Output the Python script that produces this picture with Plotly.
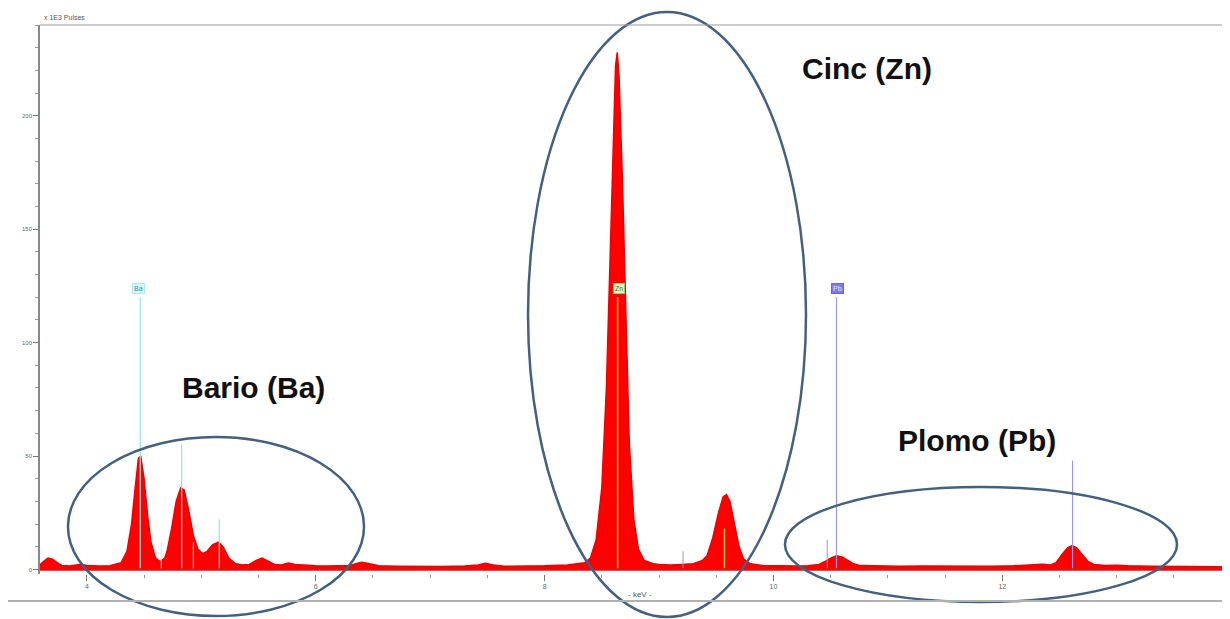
import plotly.graph_objects as go

# Spectrum (energy in keV, counts)
energy_kev = [
    3.59, 3.62, 3.66, 3.70, 3.74, 3.78, 3.85, 3.90, 3.95, 4.00, 4.10, 4.20, 4.30,
    4.35, 4.39, 4.42, 4.45, 4.47, 4.50, 4.53, 4.56, 4.60, 4.64, 4.68,
    4.70, 4.74, 4.78, 4.82, 4.85, 4.89, 4.93, 4.97, 5.01,
    5.05, 5.10, 5.15, 5.19, 5.24, 5.30, 5.36,
    5.42, 5.48, 5.53, 5.58, 5.64, 5.70, 5.76, 5.82, 5.90, 6.00, 6.10, 6.20, 6.30,
    6.35, 6.40, 6.46, 6.55, 6.70, 6.90, 7.10, 7.30,
    7.42, 7.48, 7.55, 7.65, 7.80, 8.00, 8.20, 8.35,
    8.40, 8.45, 8.50, 8.54, 8.57, 8.60, 8.62, 8.635, 8.65, 8.68, 8.71, 8.74, 8.78, 8.82, 8.87, 8.95,
    9.00, 9.10, 9.20, 9.30, 9.38,
    9.42, 9.47, 9.52, 9.56, 9.59, 9.62, 9.66, 9.70, 9.74, 9.80, 9.90, 10.00, 10.10, 10.20, 10.30, 10.40,
    10.45, 10.50, 10.55, 10.60, 10.65, 10.70, 10.76, 10.90, 11.10, 11.30, 11.50, 11.70, 11.90, 12.10,
    12.25, 12.35, 12.42,
    12.47, 12.52, 12.57, 12.61, 12.65, 12.70, 12.75, 12.80, 12.90, 13.00, 13.10, 13.30, 13.50, 13.70, 13.99,
]
counts = [
    2.0, 3.5, 5.0, 4.5, 3.0, 1.8, 1.5, 2.0, 2.3, 1.8, 1.5, 1.6, 3.0,
    8.0, 20.0, 35.0, 49.0, 50.0, 40.0, 24.0, 12.0, 5.0, 3.5, 5.0,
    8.0, 18.0, 30.0, 36.0, 35.0, 26.0, 15.0, 9.0, 7.0,
    8.0, 11.0, 12.0, 10.0, 5.0, 2.5, 2.0,
    2.2, 4.0, 5.0, 3.8, 2.2, 2.0, 2.8, 2.2, 1.8, 1.6, 1.5, 1.5, 1.8,
    2.5, 3.2, 2.6, 1.6, 1.4, 1.3, 1.3, 1.5,
    2.0, 2.7, 2.0, 1.4, 1.4, 1.6, 2.0, 3.0,
    5.0, 13.0, 36.0, 80.0, 133.0, 190.0, 222.0, 228.0, 218.0, 172.0, 110.0, 56.0, 22.0, 9.0, 4.0, 2.5,
    2.2, 2.0, 2.2, 2.5, 4.0,
    6.0, 14.0, 25.0, 32.0, 33.0, 30.0, 20.0, 10.0, 4.5, 2.5, 1.8, 1.6, 1.5, 1.5, 1.6, 2.2,
    3.5, 5.0, 6.0, 5.5, 4.0, 2.5, 1.7, 1.5, 1.4, 1.5, 1.4, 1.5, 1.4, 1.6,
    1.9, 2.3, 2.0,
    3.0, 6.5, 9.5, 10.5, 9.5, 6.5, 3.5, 2.2, 1.7, 1.9, 1.6, 1.4, 1.3, 1.3, 1.2,
]

# Element line markers (energy, marker height)
ba_lines_kev = [4.466, 4.828, 5.157]
ba_lines_h = [120, 55, 22]
ba_inner_kev = [4.65, 4.93]
ba_inner_h = [12, 12]
zn_lines_kev = [8.638, 9.572]
zn_lines_h = [120, 18]
pb_lines_kev = [10.551, 12.614]
pb_lines_h = [120, 48]
other_lines_kev = [9.21, 10.47]
other_lines_h = [8, 13]

element_labels = ["Ba", "Zn", "Pb"]
element_label_kev = [4.455, 8.65, 10.56]
element_label_y = 124

region_titles = ["Bario (Ba)", "Cinc (Zn)", "Plomo (Pb)"]
region_title_kev = [5.46, 10.82, 11.78]
region_title_y = [80, 221, 57]

y_ticks = [0, 50, 100, 150, 200]
x_ticks = [4, 6, 8, 10, 12]

fig = go.Figure()

fig.add_trace(go.Scatter(
    x=energy_kev, y=counts, mode="lines", fill="tozeroy",
    fillcolor="#ff0000", line=dict(color="#ee0000", width=1.5),
    hoverinfo="skip", showlegend=False,
))


def add_marker_lines(xs, hs, color, width):
    lx, ly = [], []
    for xv, hv in zip(xs, hs):
        lx += [xv, xv, None]
        ly += [0, hv, None]
    fig.add_trace(go.Scatter(x=lx, y=ly, mode="lines",
                             line=dict(color=color, width=width),
                             hoverinfo="skip", showlegend=False))


add_marker_lines(ba_lines_kev, ba_lines_h, "#8fe6ea", 1.2)
add_marker_lines(ba_inner_kev, ba_inner_h, "#ffd0d0", 1.0)
add_marker_lines(zn_lines_kev, zn_lines_h, "#c9c437", 1.5)
add_marker_lines(pb_lines_kev, pb_lines_h, "#9a96ee", 1.2)
add_marker_lines(other_lines_kev, other_lines_h, "#9a9ab0", 1.0)

# baseline
fig.add_shape(type="line", xref="paper", yref="y", x0=0, x1=1, y0=0, y1=0,
              line=dict(color="#e01010", width=2.5))

label_styles = [
    dict(bg="#d9f7f9", border="#aee8ec", fc="#2a8f99"),
    dict(bg="#e6f5c0", border="#a9c96a", fc="#4a6a20"),
    dict(bg="#7f7be6", border="#6a66d8", fc="#e8e8ff"),
]
for name, xv, st in zip(element_labels, element_label_kev, label_styles):
    fig.add_annotation(x=xv, y=element_label_y, text=name, showarrow=False,
                       font=dict(size=7, color=st["fc"], family="Arial"),
                       bgcolor=st["bg"], bordercolor=st["border"], borderwidth=1,
                       borderpad=1, xanchor="center", yanchor="middle")

for t, xv, yv in zip(region_titles, region_title_kev, region_title_y):
    fig.add_annotation(x=xv, y=yv, text="<b>" + t + "</b>", showarrow=False,
                       font=dict(size=30, color="#111111", family="Liberation Sans, Arial"),
                       xanchor="center", yanchor="middle")

# ellipses (paper coordinates so they may extend past the plot area)
ell_color = "#44607f"
for x0, x1, y0, y1 in [(0.0235, 0.2723, -0.0765, 0.2495),
                       (0.4101, 0.6437, -0.0783, 1.0237),
                       (0.6260, 0.9555, -0.0510, 0.1585)]:
    fig.add_shape(type="circle", xref="paper", yref="paper",
                  x0=x0, x1=x1, y0=y0, y1=y1,
                  line=dict(color=ell_color, width=2.5))

# top border and bottom frame line
fig.add_shape(type="line", xref="paper", yref="paper", x0=0, x1=1, y0=1, y1=1,
              line=dict(color="#999999", width=1.2))
fig.add_shape(type="line", xref="paper", yref="paper", x0=-0.027, x1=1, y0=-0.049, y1=-0.049,
              line=dict(color="#b0b0b0", width=2))

fig.add_annotation(xref="paper", yref="paper", x=0.002, y=1.003, text="x 1E3 Pulses",
                   showarrow=False, xanchor="left", yanchor="bottom",
                   font=dict(size=7, color="#555555", family="Arial"))
fig.add_annotation(xref="paper", yref="paper", x=0.504, y=-0.038, text="- keV -",
                   showarrow=False, xanchor="center", yanchor="middle",
                   font=dict(size=8, color="#555555", family="Arial"))

# page body has an 8px margin, so the figure is 8px smaller and margins compensate
fig.update_layout(
    width=1222, height=611,
    margin=dict(l=32, r=0, t=17, b=45),
    paper_bgcolor="white", plot_bgcolor="white",
    showlegend=False,
    xaxis=dict(range=[3.59, 13.99], tickvals=x_ticks, ticktext=[str(v) for v in x_ticks],
               automargin=False,
               showgrid=False, zeroline=False, showline=False,
               ticks="outside", ticklen=6, tickcolor="#777777", tickwidth=1,
               minor=dict(dtick=0.5, ticks="outside", ticklen=3, tickcolor="#999999"),
               tickfont=dict(size=7, color="#666666", family="Arial")),
    yaxis=dict(range=[-2, 240], tickvals=y_ticks, ticktext=[str(v) for v in y_ticks],
               automargin=False,
               showgrid=False, zeroline=False, showline=True, linecolor="#888888", linewidth=1.5,
               ticks="outside", ticklen=5, tickcolor="#777777",
               minor=dict(dtick=10, ticks="outside", ticklen=3, tickcolor="#999999"),
               tickfont=dict(size=6, color="#666666", family="Arial")),
)

fig.write_html("out.html")
